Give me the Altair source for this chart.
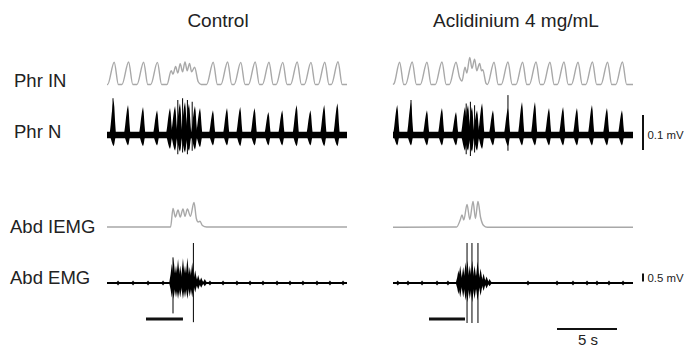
import altair as alt
import pandas as pd

# ---------------- data ----------------
panels = ["Control", "Aclidinium 4 mg/mL"]
channels = ["Phr IN", "Phr N", "Abd IEMG", "Abd EMG"]

# Integrated phrenic activity (a.u.), (time s, value)
ctrl_in = [(0.0, 0), (0.05, 0), (0.6, 0.97), (0.95, 0), (1.25, 0), (1.8, 0.98), (2.15, 0),
           (2.5, 0), (3.05, 0.97), (3.4, 0), (3.65, 0), (4.2, 0.96), (4.55, 0), (5.0, 0),
           (5.35, 0.6), (5.5, 0.45), (5.72, 0.78), (5.9, 0.5), (6.1, 0.9), (6.3, 0.55),
           (6.5, 0.98), (6.68, 0.6), (6.88, 0.92), (7.05, 0.55), (7.3, 0.75), (7.6, 0.12),
           (7.85, 0), (8.3, 0), (8.85, 0.97), (9.2, 0), (9.5, 0), (10.05, 0.98), (10.4, 0),
           (10.6, 0), (11.15, 0.96), (11.5, 0), (11.8, 0), (12.35, 0.98), (12.7, 0), (12.95, 0),
           (13.5, 0.97), (13.85, 0), (14.1, 0), (14.65, 0.96), (15.0, 0), (15.3, 0), (15.85, 0.98),
           (16.2, 0), (16.45, 0), (17.0, 0.96), (17.35, 0), (17.6, 0), (18.15, 0.97), (18.5, 0),
           (18.7, 0), (19.25, 0.99), (19.6, 0), (20.0, 0)]
acl_in = [(0.0, 0), (0.1, 0.05), (0.55, 0.97), (0.9, 0), (1.05, 0), (1.6, 0.98), (1.95, 0),
          (2.28, 0), (2.83, 0.97), (3.18, 0), (3.53, 0), (4.08, 0.98), (4.43, 0), (4.7, 0),
          (5.25, 0.97), (5.55, 0.3), (5.75, 0.15), (6.0, 0.75), (6.15, 0.5), (6.4, 1.18),
          (6.58, 0.7), (6.8, 1.1), (6.98, 0.6), (7.22, 0.92), (7.38, 0.6), (7.48, 0.64),
          (7.75, 0.05), (7.87, 0), (8.42, 0.97), (8.77, 0), (9.03, 0), (9.58, 0.98), (9.93, 0),
          (10.25, 0), (10.8, 0.97), (11.15, 0), (11.37, 0), (11.92, 0.98), (12.27, 0), (12.53, 0),
          (13.08, 0.97), (13.43, 0), (13.7, 0), (14.25, 0.98), (14.6, 0), (14.87, 0), (15.42, 0.97),
          (15.77, 0), (16.07, 0), (16.62, 0.98), (16.97, 0), (17.33, 0), (17.88, 0.97), (18.23, 0),
          (18.57, 0), (19.12, 0.98), (19.47, 0), (20.0, 0)]

# Phrenic neurogram bursts: (time s, upward mV, downward mV)
ctrl_phr = [(0.55, 0.1, 0.032), (1.75, 0.086, 0.03), (3.0, 0.08, 0.032), (4.17, 0.071, 0.03),
            (5.25, 0.077, 0.04), (5.67, 0.083, 0.045), (6.08, 0.091, 0.048), (6.5, 0.094, 0.05),
            (6.83, 0.089, 0.046), (7.33, 0.083, 0.042), (7.75, 0.077, 0.035),
            (8.83, 0.071, 0.03), (10.0, 0.077, 0.03), (11.1, 0.08, 0.032), (12.3, 0.077, 0.03),
            (13.45, 0.066, 0.03), (14.6, 0.071, 0.03), (15.8, 0.086, 0.032), (16.95, 0.071, 0.03),
            (18.1, 0.086, 0.032), (19.2, 0.091, 0.032)]
acl_phr = [(0.35, 0.086, 0.03), (1.5, 0.094, 0.03), (2.83, 0.071, 0.03), (4.08, 0.077, 0.03),
           (5.25, 0.066, 0.03), (6.0, 0.08, 0.045), (6.25, 0.086, 0.045), (6.58, 0.08, 0.048),
           (7.0, 0.071, 0.045), (7.42, 0.091, 0.04), (8.33, 0.071, 0.03), (9.58, 0.077, 0.032),
           (10.75, 0.094, 0.03), (11.83, 0.094, 0.03), (13.0, 0.077, 0.03), (14.17, 0.08, 0.03),
           (15.33, 0.077, 0.03), (16.58, 0.086, 0.03), (17.83, 0.077, 0.03), (19.08, 0.071, 0.03)]
# single large phrenic spikes: (time s, up mV, down mV)
ctrl_phr_spk = [(0.5, 0.105, 0.02), (5.9, 0.1, 0.055), (6.3, 0.105, 0.05), (6.7, 0.1, 0.055),
                (7.1, 0.095, 0.045)]
acl_phr_spk = [(1.5, 0.1, 0.02), (6.1, 0.09, 0.055), (6.45, 0.095, 0.06), (6.8, 0.085, 0.05),
               (9.58, 0.114, 0.045)]

# Integrated abdominal EMG (a.u.)
ctrl_iemg = [(0.0, 0.02), (5.3, 0.02), (5.5, 0.76), (5.7, 0.42), (5.92, 0.7), (6.1, 0.42),
             (6.33, 0.74), (6.5, 0.45), (6.7, 0.74), (6.95, 0.45), (7.25, 1.0), (7.45, 0.35),
             (7.6, 0.22), (7.75, 0.25), (7.95, 0.08), (8.3, 0.02), (20.0, 0.02)]
acl_iemg = [(0.0, 0.01), (5.3, 0.02), (5.6, 0.3), (5.75, 0.5), (5.9, 0.3), (6.17, 0.92),
            (6.4, 0.32), (6.67, 1.04), (6.87, 0.36), (7.08, 1.04), (7.3, 0.4), (7.55, 0.08),
            (7.85, 0.01), (20.0, 0.01)]

# Abdominal EMG spindles: (time s, up mV, down mV)
ctrl_emg = [(5.4, 1.2, 0.9), (5.55, 1.55, 1.0), (5.75, 1.1, 0.9), (5.92, 1.5, 1.0), (6.1, 1.1, 0.9),
            (6.33, 1.55, 1.0), (6.5, 1.1, 0.9), (6.7, 1.6, 1.0), (6.9, 1.0, 0.85), (7.1, 1.3, 0.9),
            (7.35, 0.8, 0.6), (7.6, 0.5, 0.4), (7.85, 0.35, 0.3), (8.15, 0.25, 0.2)]
acl_emg = [(5.45, 0.8, 0.7), (5.6, 1.1, 0.9), (5.85, 1.0, 0.9), (6.05, 1.3, 1.1), (6.2, 1.4, 1.2),
           (6.4, 1.1, 1.0), (6.6, 1.4, 1.2), (6.8, 1.1, 1.0), (7.05, 1.35, 1.1), (7.3, 0.9, 0.8),
           (7.55, 0.6, 0.5), (7.8, 0.4, 0.35), (8.05, 0.25, 0.2)]
ctrl_emg_spk = [(5.5, 1.6, 1.9), (7.2, 2.5, 2.45)]
acl_emg_spk = [(6.17, 2.5, 2.5), (6.58, 2.5, 2.5), (7.08, 2.5, 2.5)]
# small EMG deflections on the baseline (time s)
ctrl_emg_blip = [0.92, 2.17, 3.42, 4.67, 8.58, 9.67, 10.83, 11.92, 13.0, 14.17, 15.25, 16.33,
                 17.5, 18.58, 19.67]
acl_emg_blip = [0.4, 1.25, 2.42, 3.67, 4.58, 11.25, 13.67, 15.0, 16.17, 17.0, 18.0, 19.17]

# stimulation bars (s) and calibration
ctrl_stim = (3.25, 6.33)
acl_stim = (3.0, 6.0)
trace_len = 20.0
cal_phr_mv = 0.1
cal_emg_mv = 0.5
cal_time_s = 5

# ---------------- layout (page px) ----------------
ORIGIN = 8
PX_PER_S = 12.0
PLOT_W, PLOT_H = 676, 333
X0 = 107
PANEL_X0 = {"Control": 107, "Aclidinium 4 mg/mL": 393}
ROW_BASE = {"Phr IN": 84.5, "Phr N": 135, "Abd IEMG": 227.5, "Abd EMG": 283}
ROW_GAIN = {"Phr IN": 23, "Phr N": 350, "Abd IEMG": 25, "Abd EMG": 16}
X_DOMAIN = [(ORIGIN - X0) / PX_PER_S, (ORIGIN + PLOT_W - X0) / PX_PER_S]

phr_shape = [(-0.34, 0), (-0.24, 0.3), (-0.16, 0.6), (-0.08, 0.85), (0.0, 1.0),
             (0.06, 0.8), (0.12, 0.4), (0.2, 0)]
emg_shape = [(-0.22, 0), (-0.1, 0.45), (0.0, 1.0), (0.1, 0.45), (0.22, 0)]
blip_shape = [(-0.25, 0), (-0.08, 0.5), (0.0, 1.0), (0.08, 0.5), (0.25, 0)]


def xs(panel, t):
    return (PANEL_X0[panel] - X0) / PX_PER_S + t


def ys(row, v):
    return ROW_BASE[row] - ORIGIN - v * ROW_GAIN[row]


def px_x(p):
    return (p - X0) / PX_PER_S


def px_y(p):
    return p - ORIGIN


# ---- lines
rows = []
for panel, row, pts in [("Control", "Phr IN", ctrl_in), ("Aclidinium 4 mg/mL", "Phr IN", acl_in),
                        ("Control", "Abd IEMG", ctrl_iemg), ("Aclidinium 4 mg/mL", "Abd IEMG", acl_iemg)]:
    for t, v in pts:
        rows.append({"id": panel + row, "x": xs(panel, t), "y": ys(row, v)})
lines_df = pd.DataFrame(rows)

# ---- areas (bursts & baseline bands)
rows = []
k = 0
def add_bursts(panel, row, bursts, shape):
    global k
    for t, up, dn in bursts:
        k += 1
        for dt, f in shape:
            rows.append({"id": f"b{k}", "x": xs(panel, t + dt),
                         "y": ys(row, f * up), "y2": ys(row, -f * dn)})

for panel, phr, emg, blips in [("Control", ctrl_phr, ctrl_emg, ctrl_emg_blip),
                               ("Aclidinium 4 mg/mL", acl_phr, acl_emg, acl_emg_blip)]:
    add_bursts(panel, "Phr N", phr, phr_shape)
    add_bursts(panel, "Abd EMG", emg, emg_shape)
    add_bursts(panel, "Abd EMG", [(b, 0.16, 0.16) for b in blips], blip_shape)
    for row, w in [("Phr N", 0.0095), ("Abd EMG", 0.07)]:
        k += 1
        for t in (0.0, trace_len):
            rows.append({"id": f"b{k}", "x": xs(panel, t), "y": ys(row, w), "y2": ys(row, -w)})
areas_df = pd.DataFrame(rows)

# ---- spikes
rows = []
for panel, row, spk in [("Control", "Phr N", ctrl_phr_spk), ("Aclidinium 4 mg/mL", "Phr N", acl_phr_spk),
                        ("Control", "Abd EMG", ctrl_emg_spk), ("Aclidinium 4 mg/mL", "Abd EMG", acl_emg_spk)]:
    for t, up, dn in spk:
        rows.append({"x": xs(panel, t), "y": ys(row, up), "y2": ys(row, -dn)})
spikes_df = pd.DataFrame(rows)

# ---- bars (stimulus + calibration)
cal_x = px_x(643)
bars_df = pd.DataFrame([
    {"x": xs("Control", ctrl_stim[0]), "x2": xs("Control", ctrl_stim[1]), "y": px_y(319), "y2": px_y(319), "w": 3},
    {"x": xs("Aclidinium 4 mg/mL", acl_stim[0]), "x2": xs("Aclidinium 4 mg/mL", acl_stim[1]), "y": px_y(319), "y2": px_y(319), "w": 3},
    {"x": cal_x, "x2": cal_x, "y": ys("Phr N", -0.043), "y2": ys("Phr N", -0.043 + cal_phr_mv), "w": 2},
    {"x": cal_x, "x2": cal_x, "y": ys("Abd EMG", 0.1), "y2": ys("Abd EMG", 0.1 + cal_emg_mv), "w": 2},
    {"x": px_x(557), "x2": px_x(557) + cal_time_s, "y": px_y(329), "y2": px_y(329), "w": 2},
])

# ---- texts
left_text = pd.DataFrame([
    {"x": px_x(14), "y": px_y(87), "text": channels[0], "size": 18.5},
    {"x": px_x(14), "y": px_y(137.5), "text": channels[1], "size": 18.5},
    {"x": px_x(10), "y": px_y(232.5), "text": channels[2], "size": 18.5},
    {"x": px_x(10), "y": px_y(283.5), "text": channels[3], "size": 18.5},
    {"x": px_x(647.5), "y": px_y(139), "text": f"{cal_phr_mv} mV", "size": 11.4},
    {"x": px_x(647.5), "y": px_y(282), "text": f"{cal_emg_mv} mV", "size": 11.4},
])
center_text = pd.DataFrame([
    {"x": px_x(218), "y": px_y(26.5), "text": panels[0], "size": 19},
    {"x": px_x(516), "y": px_y(26.5), "text": panels[1], "size": 19},
    {"x": px_x(588), "y": px_y(345), "text": f"{cal_time_s} s", "size": 15},
])

X = lambda f="x": alt.X(f"{f}:Q", scale=alt.Scale(domain=X_DOMAIN, nice=False, zero=False), axis=None)
Y = lambda f="y": alt.Y(f"{f}:Q", scale=alt.Scale(domain=[0, PLOT_H], reverse=True, nice=False, zero=False), axis=None)

lines = alt.Chart(lines_df).mark_line(color="#a8a8a8", strokeWidth=1.4, interpolate="monotone").encode(
    x=X(), y=Y(), detail="id:N")
areas = alt.Chart(areas_df).mark_area(color="#000000", interpolate="linear").encode(
    x=X(), y=Y(), y2="y2:Q", detail="id:N")
spikes = alt.Chart(spikes_df).mark_rule(color="#000000", strokeWidth=1).encode(
    x=X(), y=Y(), y2="y2:Q")
bars = alt.Chart(bars_df).mark_rule(color="#111111").encode(
    x=X(), x2="x2:Q", y=Y(), y2="y2:Q", strokeWidth=alt.StrokeWidth("w:Q", scale=None))
ltext = alt.Chart(left_text).mark_text(align="left", baseline="alphabetic", font="Liberation Sans",
                                       color="#222222").encode(
    x=X(), y=Y(), text="text:N", size=alt.Size("size:Q", scale=None))
ctext = alt.Chart(center_text).mark_text(align="center", baseline="alphabetic", font="Liberation Sans",
                                         color="#222222").encode(
    x=X(), y=Y(), text="text:N", size=alt.Size("size:Q", scale=None))

chart = alt.layer(lines, areas, spikes, bars, ltext, ctext).properties(
    width=PLOT_W, height=PLOT_H,
    autosize=alt.AutoSizeParams(type="none"),
    padding={"left": 0, "top": 0, "right": 0, "bottom": 8},
    background="white",
).configure_view(strokeWidth=0)

chart.save("out.html", embed_options={"renderer": "svg", "actions": False})
